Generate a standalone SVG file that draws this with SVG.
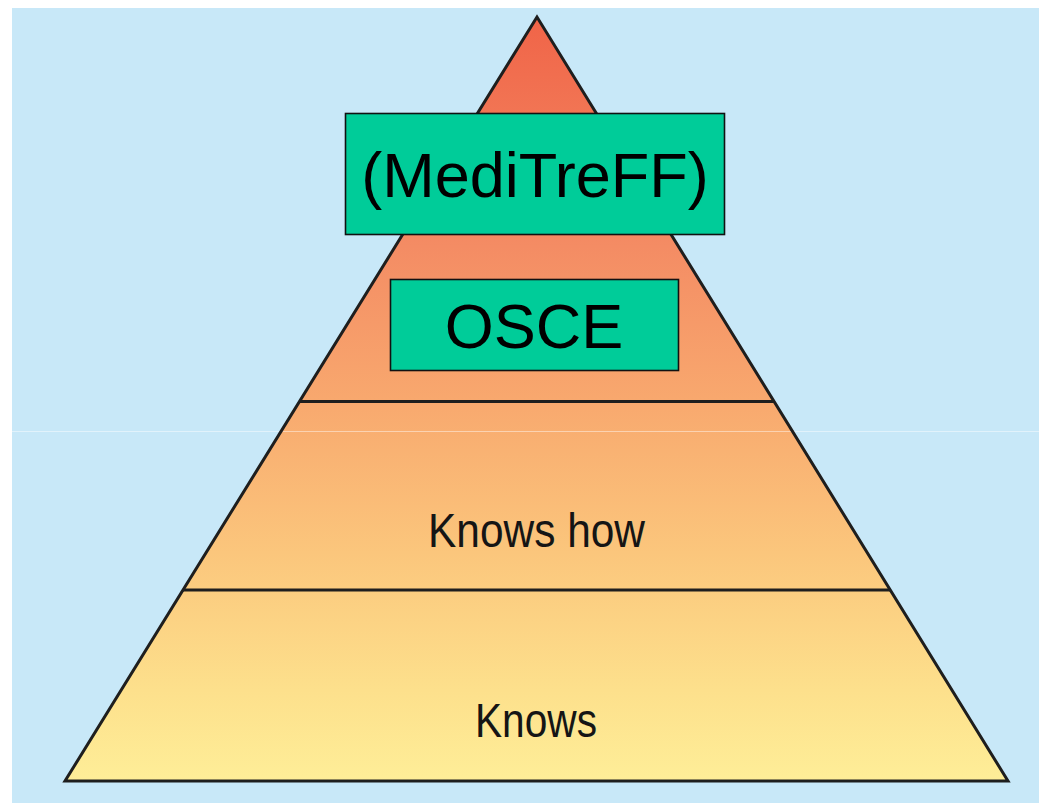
<svg xmlns="http://www.w3.org/2000/svg" width="1039" height="803" viewBox="0 0 1039 803">
  <defs>
    <linearGradient id="pyr" x1="0" y1="17" x2="0" y2="782" gradientUnits="userSpaceOnUse">
      <stop offset="0" stop-color="#F06448"/>
      <stop offset="0.3" stop-color="#F48C64"/>
      <stop offset="0.5" stop-color="#F8A86E"/>
      <stop offset="0.7" stop-color="#FBC67C"/>
      <stop offset="0.88" stop-color="#FDE08C"/>
      <stop offset="1" stop-color="#FEEE98"/>
    </linearGradient>
    <style>
      .edge { fill: none; stroke: #1E1E1E; stroke-width: 3; stroke-linejoin: miter; }
      .box { fill: #00CC99; stroke: #111; stroke-width: 1.6; }
      .big { font-family: "Liberation Sans", Arial, sans-serif; font-size: 63px; fill: #000; text-anchor: middle; }
      .lvl { font-family: "Liberation Sans", Arial, sans-serif; font-size: 48px; fill: #151515; }
    </style>
  </defs>
  <rect x="0" y="0" width="1039" height="803" fill="#FFFFFF"/>
  <rect x="12" y="8" width="1027" height="795" fill="#C8E8F8"/>
  <g id="pyramid">
    <polygon points="537,17 65,781 1008,781" fill="url(#pyr)"/>
    <line x1="0" y1="431.5" x2="1039" y2="431.5" stroke="#FFFFFF" stroke-opacity="0.45" stroke-width="1"/>
    <polygon class="edge" points="537,17 65,781 1008,781"/>
    <line class="edge" x1="300" y1="401.5" x2="774" y2="401.5"/>
    <line class="edge" x1="183" y1="590" x2="891" y2="590"/>
  </g>
  <g id="node-meditreff">
    <rect class="box" x="345.5" y="113.5" width="379" height="121"/>
    <text class="big" x="535" y="197">(MediTreFF)</text>
  </g>
  <g id="node-osce">
    <rect class="box" x="390.5" y="279.5" width="288" height="91"/>
    <text class="big" x="534" y="348">OSCE</text>
  </g>
  <g id="node-knows-how">
    <text class="lvl" x="428" y="547" textLength="217" lengthAdjust="spacingAndGlyphs">Knows how</text>
  </g>
  <g id="node-knows">
    <text class="lvl" x="475" y="737" textLength="122" lengthAdjust="spacingAndGlyphs">Knows</text>
  </g>
  <g id="connectors"></g>
</svg>
